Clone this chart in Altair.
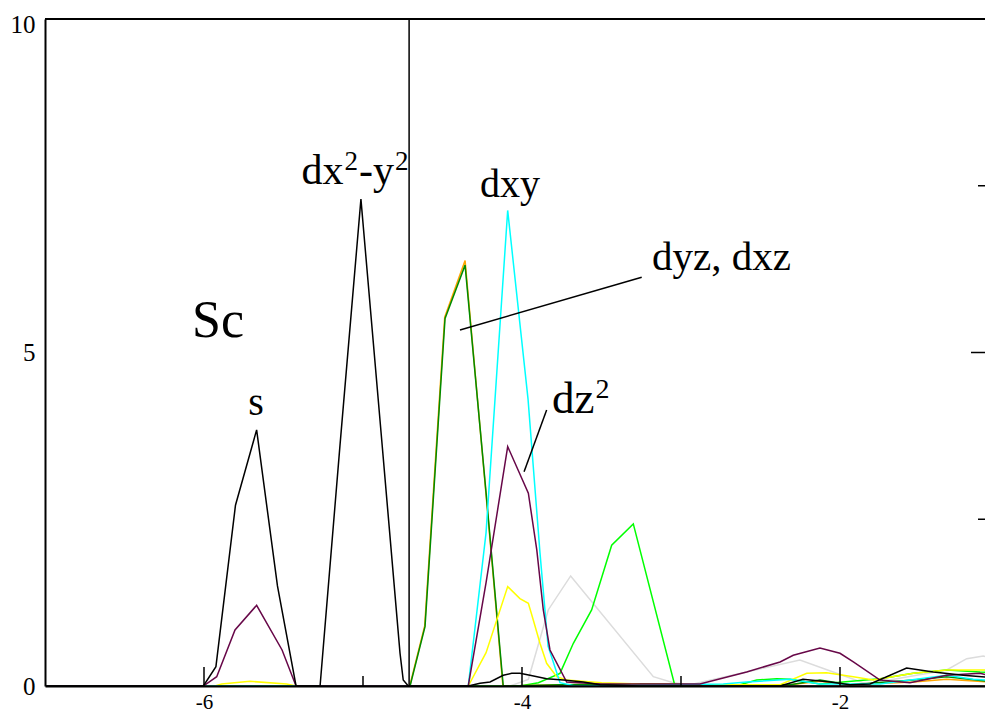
import altair as alt
import pandas as pd

# ---------------- data ----------------
x_domain = [-7.0, -1.088]
y_domain = [0.0, 10.0]
x_major = [-6, -4, -2]
x_minor = [-5, -3]
y_major = [0, 5, 10]
y_minor = [2.5, 7.5]
fermi_level = -4.71

# black: s peak
s_black_E = [-7.0, -6.06, -6.004, -5.925, -5.802, -5.669, -5.538, -5.421, -1.0]
s_black_D = [0, 0, 0, 0.29, 2.71, 3.84, 1.5, 0, 0]

# black: dx2-y2 and small tails
dx2_E = [-7.0, -5.27, -5.145, -5.013, -4.882, -4.767, -4.747, -4.715, -4.338, -4.264,
         -4.201, -4.118, -4.065, -4.013, -3.950, -3.845, -3.740, -3.614, -3.509, -3.258,
         -2.377, -2.233, -2.063, -1.937, -1.811, -1.581, -1.413, -1.225, -1.0]
dx2_D = [0, 0, 3.6, 7.30, 3.68, 0.49, 0.09, 0, 0, 0.04,
         0.06, 0.16, 0.19, 0.19, 0.16, 0.11, 0.09, 0.06, 0.02, 0,
         0, 0.10, 0.06, 0.02, 0.03, 0.27, 0.21, 0.16, 0.12]

# maroon: dz2
dz2_E = [-7.0, -6.004, -5.920, -5.805, -5.669, -5.509, -5.421, -4.338, -4.226, -4.090,
         -3.960, -3.907, -3.866, -3.824, -3.719, -3.509, -2.881, -2.587, -2.377, -2.294,
         -2.126, -2.000, -1.916, -1.748, -1.560, -1.329, -1.119, -1.0]
dz2_D = [0, 0, 0.14, 0.84, 1.21, 0.54, 0, 0, 1.55, 3.59,
         2.89, 2.04, 1.14, 0.54, 0.06, 0.03, 0.03, 0.21, 0.36, 0.46,
         0.57, 0.49, 0.36, 0.09, 0.05, 0.16, 0.19, 0.12]

# yellow
yel_E = [-7.0, -5.931, -5.889, -5.711, -5.480, -5.421, -4.338, -4.226, -4.090, -4.013,
         -3.960, -3.929, -3.887, -3.845, -3.782, -3.719, -3.499, -3.258, -2.881, -2.377,
         -2.209, -2.084, -1.916, -1.791, -1.539, -1.329, -1.0]
yel_D = [0, 0, 0.03, 0.07, 0.03, 0, 0, 0.5, 1.49, 1.31,
         1.24, 0.99, 0.64, 0.34, 0.14, 0.09, 0.05, 0.03, 0.02, 0.02,
         0.19, 0.20, 0.14, 0.09, 0.19, 0.24, 0.24]

# cyan: dxy
dxy_E = [-7.0, -4.338, -4.226, -4.090, -3.962, -3.887, -3.836, -3.761, -3.667, -2.734,
         -2.587, -2.314, -2.126, -1.748, -1.329, -1.162, -1.0]
dxy_D = [0, 0, 2.3, 7.13, 4.3, 2.0, 0.6, 0.05, 0, 0.03,
         0.06, 0.10, 0.03, 0.03, 0.16, 0.10, 0.08]

# orange: dxz
dxz_E = [-7.0, -4.755, -4.706, -4.612, -4.486, -4.358, -4.228, -4.120, -3.761, -3.258,
         -2.881, -2.314, -2.126, -1.937, -1.539, -1.329, -1.0]
dxz_D = [0, 0, 0, 0.90, 5.53, 6.38, 2.92, 0, 0.02, 0.03,
         0.02, 0.02, 0.07, 0.02, 0.06, 0.10, 0.05]

# dark green: dyz
dyz_E = [-7.0, -4.755, -4.704, -4.610, -4.484, -4.358, -4.226, -4.118, -3.761, -3.258,
         -2.881, -2.314, -2.126, -1.937, -1.539, -1.329, -1.0]
dyz_D = [0, 0, 0, 0.89, 5.51, 6.31, 2.9, 0, 0.02, 0.03,
         0.02, 0.02, 0.09, 0.02, 0.09, 0.14, 0.05]

# lime green
lime_E = [-7.0, -4.013, -3.897, -3.761, -3.677, -3.562, -3.436, -3.300, -3.038, -2.629,
          -2.524, -2.398, -2.314, -2.126, -1.748, -1.539, -1.329, -1.119, -1.0]
lime_D = [0, 0, 0.05, 0.19, 0.64, 1.14, 2.11, 2.43, 0, 0.02,
          0.09, 0.11, 0.10, 0.03, 0.11, 0.19, 0.24, 0.21, 0.20]

# light grey
grey_E = [-7.0, -4.075, -3.960, -3.835, -3.694, -3.174, -3.048, -2.943, -2.252, -2.021,
          -1.832, -1.329, -1.203, -1.099, -1.0]
grey_D = [0, 0, 0.10, 1.14, 1.65, 0.14, 0.05, 0.02, 0.39, 0.19,
          0.03, 0.24, 0.41, 0.45, 0.39]

# plain annotations (label, energy, dos)
labels = ["Sc", "s", "dxy", "dyz, dxz"]
label_E = [-5.912, -5.673, -4.075, -3.182]
label_D = [5.23, 4.06, 7.33, 6.24]

# annotations with superscripts: text pieces and anchors
dx2y2_pieces = ["dx", "2", "-y", "2"]
dx2y2_E, dx2y2_D = -5.050, 7.53
dz2_pieces = ["dz", "2"]
dz2_lab_E, dz2_lab_D = -3.811, 4.09

# leader lines (x, y, x2, y2)
leaders_E1 = [-4.390, -3.845]
leaders_D1 = [5.337, 4.138]
leaders_E2 = [-3.247, -3.987]
leaders_D2 = [6.128, 3.213]

# ---------------- chart ----------------
W, H = 940, 667
SERIF = "Liberation Serif"
xs = alt.Scale(domain=x_domain, nice=False, zero=False)
ys = alt.Scale(domain=y_domain, nice=False, zero=False)

x_axis = alt.Axis(values=x_major, ticks=False, tickSize=0, grid=False, domain=True,
                  domainColor="black", domainWidth=2, labelFont=SERIF, labelFontSize=21,
                  labelColor="black", labelPadding=5, labelFlush=False, title=None,
                  labelExpr="'' + datum.value", labelBaseline="top")
y_axis = alt.Axis(values=y_major, ticks=False, tickSize=0, grid=False, domain=True,
                  domainColor="black", domainWidth=2, labelFont=SERIF, labelFontSize=25,
                  labelColor="black", labelPadding=10, labelFlush=False, title=None,
                  labelExpr="'' + datum.value",
                  labelOffset={"condition": {"test": "datum.value == 10", "value": 5},
                               "value": 0})


def X(field):
    return alt.X(field, scale=xs, axis=x_axis)


def Y(field):
    return alt.Y(field, scale=ys, axis=y_axis)


series = [
    ("grey", grey_E, grey_D, "#dcdcdc"),
    ("lime", lime_E, lime_D, "#00ff00"),
    ("dxz", dxz_E, dxz_D, "#ffa500"),
    ("dyz", dyz_E, dyz_D, "#008b00"),
    ("yellow", yel_E, yel_D, "#ffff00"),
    ("dxy", dxy_E, dxy_D, "#00ffff"),
    ("dz2", dz2_E, dz2_D, "#670748"),
    ("s", s_black_E, s_black_D, "#000000"),
    ("dx2", dx2_E, dx2_D, "#000000"),
]

layers = []
for name, E, D, col in series:
    df = pd.DataFrame({"E": E, "D": D, "i": range(len(E))})
    layers.append(
        alt.Chart(df).mark_line(color=col, strokeWidth=1.5, clip=True).encode(
            x=X("E:Q"), y=Y("D:Q"), order="i:Q")
    )

# Fermi level
layers.append(
    alt.Chart(pd.DataFrame({"E": [fermi_level]})).mark_rule(color="black", strokeWidth=1.5)
    .encode(x=X("E:Q"), y=alt.value(0), y2=alt.value(H))
)

# leader lines
lead_df = pd.DataFrame({"x": leaders_E1, "y": leaders_D1, "x2": leaders_E2, "y2": leaders_D2})
layers.append(
    alt.Chart(lead_df).mark_rule(color="black", strokeWidth=1.5).encode(
        x=X("x:Q"), y=Y("y:Q"), x2="x2:Q", y2="y2:Q")
)

# plain annotations
aligns = ["center", "center", "center", "left"]
sizes = [52, 40, 40, 41]
for lab, e, d, al, fs in zip(labels, label_E, label_D, aligns, sizes):
    layers.append(
        alt.Chart(pd.DataFrame({"E": [e], "D": [d], "t": [lab]})).mark_text(
            font=SERIF, fontSize=fs, align=al, baseline="alphabetic", color="black")
        .encode(x=X("E:Q"), y=Y("D:Q"), text="t:N")
    )

# superscripted annotations, built from pieces (Times-like advance widths, em units)
ADV = {"d": 0.5, "x": 0.5, "y": 0.5, "z": 0.444, "-": 0.333, "2": 0.5}


def piece_layers(pieces, e, d, base_fs, sup_fs, rise, centered):
    sizes_ = [sup_fs if p == "2" else base_fs for p in pieces]
    widths = [sum(ADV[c] for c in p) * fs for p, fs in zip(pieces, sizes_)]
    gap = 1.0
    total = sum(widths) + gap * (len(pieces) - 1)
    off = -total / 2 if centered else 0.0
    out = []
    for p, fs, w in zip(pieces, sizes_, widths):
        out.append(
            alt.Chart(pd.DataFrame({"E": [e], "D": [d], "t": [p]})).mark_text(
                font=SERIF, fontSize=fs, align="left", baseline="alphabetic",
                color="black", dx=off, dy=(-rise if p == "2" else 0))
            .encode(x=X("E:Q"), y=Y("D:Q"), text="t:N")
        )
        off += w + gap
    return out


layers += piece_layers(dx2y2_pieces, dx2y2_E, dx2y2_D, 42, 27, 14, True)
layers += piece_layers(dz2_pieces, dz2_lab_E, dz2_lab_D, 45, 28, 15, False)


# inner ticks
def xticks(vals, length):
    return alt.Chart(pd.DataFrame({"v": vals})).mark_rule(color="black", strokeWidth=1.5).encode(
        x=X("v:Q"), y=alt.value(H), y2=alt.value(H - length))


def yticks_right(vals, length):
    return alt.Chart(pd.DataFrame({"v": vals})).mark_rule(color="black", strokeWidth=1.5).encode(
        y=Y("v:Q"), x=alt.value(W - length), x2=alt.value(W))


layers += [xticks(x_major, 19), xticks(x_minor, 10),
           yticks_right([5], 14), yticks_right(y_minor, 7)]

# top frame line
layers.append(
    alt.Chart(pd.DataFrame({"a": [0]})).mark_rule(color="black", strokeWidth=2).encode(
        x=alt.value(0), x2=alt.value(W), y=alt.value(0))
)

chart = alt.layer(*layers).properties(
    width=W, height=H,
    autosize=alt.AutoSizeParams(type="none"),
    padding={"left": 37, "top": 11, "right": 0, "bottom": 27},
    background="white",
).configure_view(stroke=None)

chart.save("out.html", embed_options={"renderer": "svg", "actions": False})
